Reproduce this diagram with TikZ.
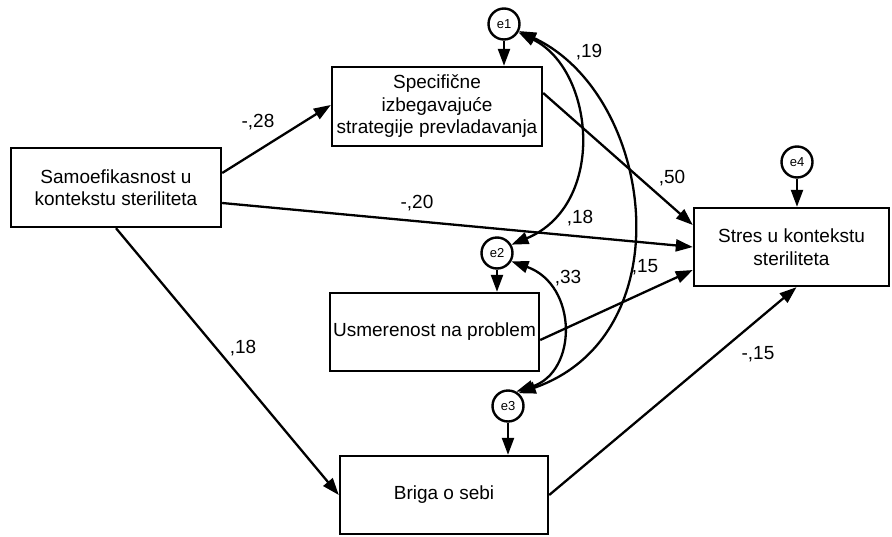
\documentclass[tikz,border=0pt]{standalone}
\usepackage{fontspec}
\setmainfont{Liberation Sans}
\usetikzlibrary{arrows.meta,calc}
\tikzset{
  box/.style={draw,line width=2.4pt,rectangle,align=center,inner sep=0pt,font=\fontsize{19}{22.5}\selectfont},
  err/.style={draw,line width=2.4pt,circle,minimum size=31pt,inner sep=0pt,font=\fontsize{13}{15}\selectfont},
  path/.style={line width=2.3pt,-{Triangle[length=17pt,width=12pt]}},
  cov/.style={line width=2.3pt,{Triangle[length=17pt,width=12pt]}-{Triangle[length=17pt,width=12pt]}},
  lab/.style={font=\fontsize{19}{22}\selectfont,inner sep=0pt}
}
\begin{document}
\begin{tikzpicture}[x=1pt,y=-1pt]
\useasboundingbox (0,0) rectangle (892,536);
% boxes
\node[box,minimum width=210pt,minimum height=79pt] (samo) at (116,187.5) {Samoefikasnost u\\kontekstu steriliteta};
\node[box,minimum width=210pt,minimum height=79pt] (spec) at (437,106.5) {Specifične\\izbegavajuće\\strategije prevladavanja};
\node[box,minimum width=209pt,minimum height=78pt] (usm) at (434.5,332) {Usmerenost na problem};
\node[box,minimum width=208pt,minimum height=78pt] (briga) at (444,495) {Briga o sebi};
\node[box,minimum width=195pt,minimum height=78pt] (stres) at (791.5,247) {Stres u kontekstu\\steriliteta};
% error terms
\node[err] (e1) at (504,24) {e1};
\node[err] (e2) at (497,253) {e2};
\node[err] (e3) at (508,406) {e3};
\node[err] (e4) at (797,162) {e4};
% error paths
\draw[path] (e1.south) -- (e1.south |- spec.north);
\draw[path] (e2.south) -- (e2.south |- usm.north);
\draw[path] (e3.south) -- (e3.south |- briga.north);
\draw[path] (e4.south) -- (e4.south |- stres.north);
% structural paths
\draw[path] ($(samo.east)+(0,-14.5)$) -- ($(spec.west)+(0,-1.5)$);
\draw[path] ($(samo.east)+(0,15.5)$) -- (stres.west);
\draw[path] (samo.south) -- (briga.west);
\draw[path] ($(spec.east)+(0,-13.5)$) -- ($(stres.west)+(0,-22)$);
\draw[path] ($(usm.east)+(0,8)$) -- ($(stres.west)+(0,23)$);
\draw[path] (briga.east) -- ($(stres.south)+(5,0)$);
% covariances
\draw[cov] (e1.-30) .. controls (595,70) and (607,205) .. (e2.30);
\draw[cov] (e1.-25) .. controls (655,95) and (685,335) .. (e3.50);
\draw[cov] (e2.-30) .. controls (578,285) and (578,372) .. (e3.60);
% labels
\node[lab] (l1) at (258,122) {-,28};
\node[lab] (l2) at (417,203) {-,20};
\node[lab] (l3) at (243,348) {,18};
\node[lab] (l4) at (672,178) {,50};
\node[lab] (l5) at (580,218) {,18};
\node[lab] (l6) at (589,52) {,19};
\node[lab] (l7) at (568,278) {,33};
\node[lab] (l8) at (645,267) {,15};
\node[lab] (l9) at (758,354) {-,15};
\end{tikzpicture}
\end{document}
